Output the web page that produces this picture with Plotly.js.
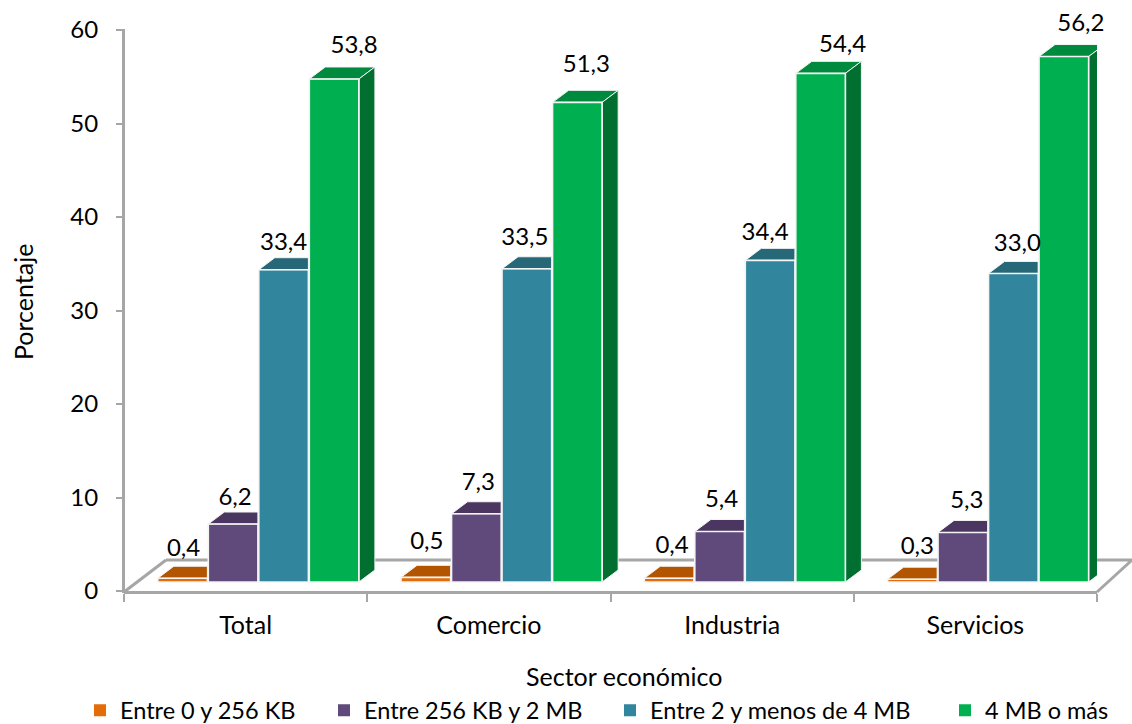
<!DOCTYPE html>
<html>
<head>
<meta charset="utf-8">
<script src="https://cdn.plot.ly/plotly-3.0.1.min.js"></script>
<style>html,body{margin:0;padding:0;background:#fff}</style>
</head>
<body>
<div id="chart" style="width:1132px;height:724px"></div>
<script>
// ---- data ----
const sectors = ['Total', 'Comercio', 'Industria', 'Servicios'];
const seriesNames = ['Entre 0 y 256 KB', 'Entre 256 KB y 2 MB', 'Entre 2 y menos de 4 MB', '4 MB o más'];
const band0to256 = [0.4, 0.5, 0.4, 0.3];
const band256to2 = [6.2, 7.3, 5.4, 5.3];
const band2to4 = [33.4, 33.5, 34.4, 33.0];
const band4plus = [53.8, 51.3, 54.4, 56.2];
const yTicks = [0, 10, 20, 30, 40, 50, 60];
const xAxisTitle = 'Sector económico';
const yAxisTitle = 'Porcentaje';

// ---- styling ----
const frontColors = ['#e36c09', '#604a7b', '#31859c', '#00b050'];
const topColors = ['#b35500', '#4a3660', '#266878', '#008a3e'];
const sideColors = ['#b35500', '#4a3660', '#266878', '#006f30'];
const FONT = 'Lato, "Open Sans", sans-serif';

// page geometry: y=60 sits at Y60, the plot box continues up to T to leave room for labels
const L = 124, R = 1097, T = 6, Y60 = 30, B = 591;
const pxX = (R - L) / 4, pxY = (B - Y60) / 60;
const yTop = 60 + (Y60 - T) / pxY;
const paperX = p => (p - L) / (R - L);
const paperY = p => (B - p) / (B - T);

// pseudo-3D: the front faces stand on a floor raised above the axis, depth goes up-right
const lift = 9 / pxY, depthX = 16 / pxX, depthY = 12 / pxY;
const barW = 49.6 / pxX, pitch = 50.5 / pxX, start = 33.8 / pxX;

// hand-placed label offsets (px) relative to bar centre / bar top
const labelDx = [[1, 1, 3, 5], [2, 2, 2, 4], [0, -2, -5, 4], [20, 9, 22, 17]];
const labelDy = [[28, 34, 31, 31], [25, 30, 31, 30], [26, 30, 26, 28], [32, 36, 27, 32]];

const allSeries = [band0to256, band256to2, band2to4, band4plus];
const traces = [];

allSeries.forEach((vals, s) => {
  const lefts = vals.map((_, c) => c + start + s * pitch);
  const legendId = s === 0 ? 'legend' : 'legend' + (s + 1);
  // front faces
  traces.push({
    type: 'bar', name: seriesNames[s], x: lefts.map(l => l + barW / 2), y: vals,
    base: vals.map(() => lift), width: barW,
    marker: {color: frontColors[s], line: {width: 0}},
    legend: legendId, hoverinfo: 'skip'
  });
});

function poly(list, color, line) {
  const xs = [], ys = [];
  list.forEach(p => { p.forEach(q => { xs.push(q[0]); ys.push(q[1]); }); xs.push(null); ys.push(null); });
  traces.push({
    type: 'scatter', mode: 'lines', x: xs, y: ys, fill: color ? 'toself' : 'none',
    fillcolor: color || undefined, line: {color: '#f4f4f4', width: line},
    showlegend: false, cliponaxis: false, hoverinfo: 'skip'
  });
}

allSeries.forEach((vals, s) => {
  const tops = [], sides = [], fronts = [];
  vals.forEach((v, c) => {
    const xl = c + start + s * pitch, xr = xl + barW, t = v + lift;
    const next = allSeries[s + 1] ? allSeries[s + 1][c] : null;
    const hidden = next !== null && next > v;     // the taller neighbour hides the right part
    const far = hidden ? xr : xr + depthX;
    tops.push([[xl, t], [xl + depthX, t + depthY], [far, t + depthY], [xr, t], [xl, t]]);
    if (!hidden) sides.push([[xr, t], [xr + depthX, t + depthY], [xr + depthX, lift + depthY], [xr, lift], [xr, t]]);
    fronts.push([[xl, lift], [xl, t], [xr, t], [xr, lift], [xl, lift]]);
  });
  poly(tops, topColors[s], 1);
  if (sides.length) poly(sides, sideColors[s], 1);
  poly(fronts, null, 1.6);
});

// data labels
allSeries.forEach((vals, s) => {
  traces.push({
    type: 'scatter', mode: 'text', showlegend: false, cliponaxis: false, hoverinfo: 'skip',
    x: vals.map((_, c) => c + start + s * pitch + barW / 2 + labelDx[s][c] / pxX),
    y: vals.map((v, c) => v + lift + labelDy[s][c] / pxY),
    text: vals.map(v => v.toFixed(1).replace('.', ',')),
    textposition: 'middle center',
    textfont: {family: FONT, size: 24, color: '#000'}
  });
});

const AXIS = '#a6a6a6';
const backY = 560, backLeft = 166, backRight = 1132;
const chromeLine = (x0, y0, x1, y1, layer) => ({
  type: 'line', xref: 'paper', yref: 'paper', layer: layer || 'below',
  x0: paperX(x0), y0: paperY(y0), x1: paperX(x1), y1: paperY(y1),
  line: {color: AXIS, width: 3}
});

const legendBase = px => ({
  x: paperX(px), y: paperY(710.5), xanchor: 'left', yanchor: 'middle',
  orientation: 'h', bgcolor: 'rgba(0,0,0,0)', borderwidth: 0, indentation: -7,
  font: {family: FONT, size: 23.5, color: '#000'}, itemclick: false, itemdoubleclick: false
});

const layout = {
  width: 1132, height: 724,
  margin: {l: L, r: 1132 - R, t: T, b: 724 - B, autoexpand: false},
  paper_bgcolor: '#fff', plot_bgcolor: 'rgba(0,0,0,0)',
  font: {family: FONT, size: 24, color: '#000'},
  barmode: 'overlay',
  xaxis: {
    range: [0, 4], tickmode: 'array', tickvals: [0.5, 1.5, 2.5, 3.5], ticktext: sectors,
    ticks: '', showgrid: false, zeroline: false, showline: true, linecolor: AXIS, linewidth: 3,
    ticklabelstandoff: 10, tickfont: {family: FONT, size: 25, color: '#000'},
    minor: {tickmode: 'array', tickvals: [0, 1, 2, 3, 4], ticks: 'outside', ticklen: 8, tickwidth: 2, tickcolor: AXIS, showgrid: false}
  },
  yaxis: {
    range: [0, yTop], tickmode: 'array', tickvals: yTicks, ticks: 'outside', ticklen: 7, tickwidth: 2, tickcolor: AXIS,
    showgrid: false, zeroline: false, showline: false,
    ticklabelstandoff: 13, tickfont: {family: FONT, size: 24, color: '#000'}
  },
  shapes: [
    chromeLine(L, B + 1, backLeft, backY),
    chromeLine(backLeft, backY, backRight, backY),
    chromeLine(R, B + 1, backRight, backY),
    chromeLine(L - 0.5, B + 2, L - 0.5, Y60 - 1)
  ],
  annotations: [
    {xref: 'paper', yref: 'paper', x: paperX(624), y: paperY(676), xanchor: 'center', yanchor: 'middle',
     text: xAxisTitle, showarrow: false, font: {family: FONT, size: 25, color: '#000'}},
    {xref: 'paper', yref: 'paper', x: paperX(23), y: paperY(302), xanchor: 'center', yanchor: 'middle',
     text: yAxisTitle, textangle: -90, showarrow: false, font: {family: FONT, size: 25, color: '#000'}}
  ],
  legend: legendBase(87),
  legend2: legendBase(331),
  legend3: legendBase(617),
  legend4: legendBase(952),
  showlegend: true
};

Plotly.newPlot('chart', traces, layout, {displayModeBar: false, responsive: false});
</script>
</body>
</html>
